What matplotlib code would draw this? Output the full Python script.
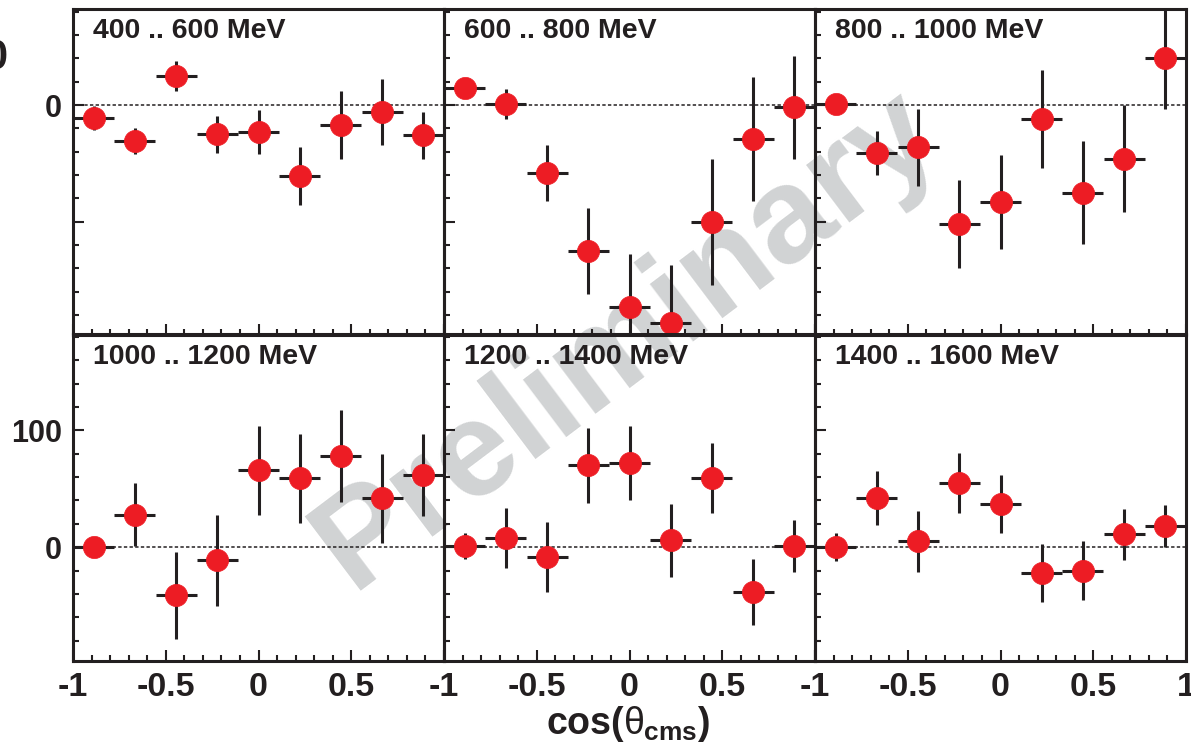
import matplotlib
matplotlib.use("Agg")
import matplotlib.pyplot as plt
from matplotlib.ticker import FixedLocator, FixedFormatter, MultipleLocator

plt.rcParams["font.family"] = ["Liberation Sans", "DejaVu Sans"]
plt.rcParams["mathtext.fontset"] = "custom"
plt.rcParams["mathtext.rm"] = "Liberation Sans"
plt.rcParams["mathtext.bf"] = "Liberation Sans:bold"
plt.rcParams["mathtext.it"] = "Liberation Sans"

# ---- data -----------------------------------------------------------------
cos_centers = [-0.889, -0.667, -0.444, -0.222, 0.0, 0.222, 0.444, 0.667, 0.889]
cos_halfwidth = 0.111

energy_bins = ["400 .. 600 MeV", "600 .. 800 MeV", "800 .. 1000 MeV",
               "1000 .. 1200 MeV", "1200 .. 1400 MeV", "1400 .. 1600 MeV"]

vals_400_600 = [-11, -31, 25, -25, -23, -61, -17, -6, -26]
errs_400_600 = [10, 11, 13, 16, 19, 25, 29, 28, 20]

vals_600_800 = [15, 1, -58, -125, -173, -187, -100, -29, -2]
errs_600_800 = [8, 13, 24, 37, 45, 50, 54, 53, 44]

vals_800_1000 = [1, -41, -36, -102, -83, -12, -75, -46, 40]
errs_800_1000 = [5, 19, 33, 38, 40, 42, 44, 46, 43]

vals_1000_1200 = [0, 28, -41, -11, 66, 59, 78, 42, 62]
errs_1000_1200 = [5, 27, 37, 39, 38, 38, 39, 38, 35]

vals_1200_1400 = [1, 8, -8, 70, 72, 6, 59, -38, 1]
errs_1200_1400 = [11, 26, 30, 32, 32, 31, 30, 28, 22]

vals_1400_1600 = [0, 42, 5, 55, 37, -22, -20, 11, 18]
errs_1400_1600 = [12, 23, 26, 26, 25, 25, 25, 22, 18]

x_tick_values = [-1, -0.5, 0, 0.5, 1]
x_tick_labels = ["-1", "-0.5", "0", "0.5", "1"]

# ---- figure -----------------------------------------------------------------
W, H = 1191, 748
fig = plt.figure(figsize=(W / 100, H / 100), dpi=100)

ink = "#231F20"
red = "#ED1C24"

left_px = 73
panel_w = 371
row_tops = [9, 334.5]
row_h = [325.5, 326.5]
ylims = [(-196.7, 82.3), (-97.2, 181.9)]

values = [vals_400_600, vals_600_800, vals_800_1000,
          vals_1000_1200, vals_1200_1400, vals_1400_1600]
errors = [errs_400_600, errs_600_800, errs_800_1000,
          errs_1000_1200, errs_1200_1400, errs_1400_1600]

for idx in range(6):
    r, c = divmod(idx, 3)
    x0 = (left_px + c * panel_w) / W
    y0 = 1 - (row_tops[r] + row_h[r]) / H
    ax = fig.add_axes([x0, y0, panel_w / W, row_h[r] / H])
    ax.set_facecolor("none")

    ax.axhline(0, color=ink, lw=1.1, ls=(0, (2.2, 1.5)), zorder=1)
    ax.errorbar(cos_centers, values[idx], yerr=errors[idx],
                xerr=cos_halfwidth, fmt="o", color=ink, ecolor=ink,
                elinewidth=2.2, capsize=0, markersize=16,
                markerfacecolor=red, markeredgecolor=red, markeredgewidth=0.5,
                zorder=3)

    ax.set_xlim(-1, 1)
    ax.set_ylim(*ylims[r])

    for s in ax.spines.values():
        s.set_linewidth(2.2)
        s.set_color(ink)
        s.set_zorder(5)

    ax.xaxis.set_major_locator(FixedLocator(x_tick_values))
    ax.xaxis.set_minor_locator(MultipleLocator(0.1))
    if r == 1:
        labels = list(x_tick_labels) if c == 2 else x_tick_labels[:-1] + [""]
        ax.xaxis.set_major_formatter(FixedFormatter(labels))
    else:
        ax.xaxis.set_major_formatter(FixedFormatter([""] * 5))

    if r == 0:
        ax.yaxis.set_major_locator(FixedLocator([-100, 0]))
        ylabels = ["", "0"]
    else:
        ax.yaxis.set_major_locator(FixedLocator([0, 100]))
        ylabels = ["0", "100"]
    ax.yaxis.set_minor_locator(MultipleLocator(20))
    if c == 0:
        ax.yaxis.set_major_formatter(FixedFormatter(ylabels))
    else:
        ax.yaxis.set_major_formatter(FixedFormatter([""] * len(ylabels)))

    ax.tick_params(which="both", direction="in", top=False, right=False,
                   color=ink, width=1.5)
    ax.tick_params(which="major", length=8)
    ax.tick_params(which="minor", length=4.5)
    ax.tick_params(axis="y", which="major", labelsize=22, pad=8,
                   labelcolor=ink)
    ax.tick_params(axis="x", which="major", labelsize=24.5, pad=8,
                   labelcolor=ink)
    for lab in ax.get_xticklabels() + ax.get_yticklabels():
        lab.set_fontweight("bold")

    ax.text(0.054, 0.972, energy_bins[idx], transform=ax.transAxes,
            ha="left", va="top", fontsize=20.5, fontweight="bold", color=ink)

# axis title under the bottom row
fig.text(628 / W, 1 - 724 / H, r"cos($\theta_{\mathbf{cms}}$)",
         ha="center", va="center", fontsize=27, fontweight="bold", color=ink)

# edge of the vertical axis title
fig.text(7 / W, 1 - 58 / H, "0", ha="right", va="center",
         fontsize=30, fontweight="bold", color=ink)

# watermark
fig.text(627 / W, 1 - 340 / H, "Preliminary", ha="center", va="center",
         rotation=37, fontsize=98, fontweight="bold", color="#D1D3D4",
         zorder=-1)

fig.savefig("out.png", dpi=100)
